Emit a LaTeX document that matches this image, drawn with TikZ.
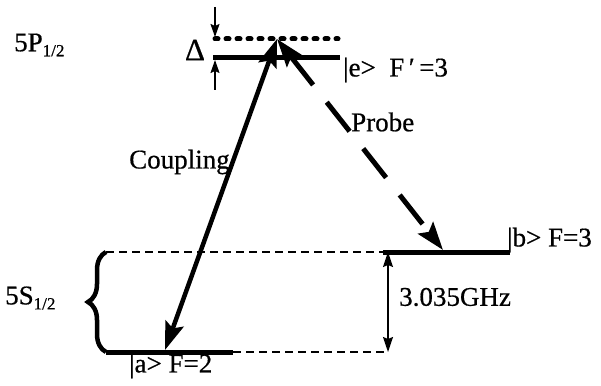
\documentclass[tikz,border=0pt]{standalone}
\usepackage{fontspec}
\setmainfont{Liberation Serif}[FakeBold=0.6]
\usetikzlibrary{arrows.meta,decorations.pathreplacing}
\begin{document}
\begin{tikzpicture}[x=1pt,y=-1pt,
  lbl/.style={inner sep=0pt,font=\fontsize{27}{30}\selectfont},
  level/.style={line width=5pt},
  thindash/.style={line width=1.2pt,dash pattern=on 8pt off 5pt},
  bighead/.style={{Stealth[length=28pt,width=19pt,inset=5pt]}-{Stealth[length=28pt,width=19pt,inset=5pt]}},
  smallhead/.style={-{Stealth[length=13pt,width=9pt,inset=2pt]}},
  medhead/.style={{Stealth[length=15pt,width=10pt,inset=2pt]}-{Stealth[length=15pt,width=10pt,inset=2pt]}}]
\useasboundingbox (0,0) rectangle (601,385);
% coordinates
\coordinate (top) at (277,39);
\coordinate (aend) at (165,350);
\coordinate (bend) at (443,250);
\coordinate (dotL) at (215,39);
\coordinate (dotR) at (338,39);
\coordinate (eL) at (213,58);
\coordinate (eR) at (340,58);
\coordinate (aL) at (106,352);
\coordinate (aR) at (233,352);
\coordinate (bL) at (383,252);
\coordinate (bR) at (510,252);
\coordinate (upL) at (106,252);
\coordinate (fTop) at (388,252);
\coordinate (fBot) at (388,352);
\coordinate (dTop) at (215,7);
\coordinate (dTopEnd) at (215,37);
\coordinate (dBot) at (215,90);
\coordinate (dBotEnd) at (215,60);
% levels
\draw[line width=5pt,line cap=round,dash pattern=on 3pt off 8pt] (dotL) -- (dotR);
\draw[level] (eL) -- (eR);
\draw[level] (aL) -- (aR);
\draw[level] (bL) -- (bR);
\draw[thindash] (aR) -- (fBot);
\draw[thindash] (upL) -- (bL);
% brace
\draw[line width=4.5pt,decorate,decoration={brace,amplitude=18pt,aspect=0.5}] (aL) -- (upL);
% delta arrows
\draw[line width=1.5pt,smallhead] (dTop) -- (dTopEnd);
\draw[line width=1.5pt,smallhead] (dBot) -- (dBotEnd);
% frequency arrow
\draw[line width=1.5pt,medhead] (fTop) -- (fBot);
% coupling and probe
\draw[line width=4.5pt,bighead] (top) -- (aend);
\draw[line width=5pt,bighead,dash pattern=on 37pt off 22pt] (top) -- (bend);
% labels
\node[lbl,anchor=west] (p12) at (14,45) {5P\raisebox{-5pt}{\fontsize{17}{17}\selectfont 1/2}};
\node[lbl,anchor=west] (s12) at (5,298) {5S\raisebox{-5pt}{\fontsize{17}{17}\selectfont 1/2}};
\node[lbl,font=\fontsize{31}{31}\selectfont] (delta) at (195,50) {Δ};
\node[lbl,anchor=west] (elab) at (343,70) {|e>\ \ F\,′\,=3};
\node[lbl,anchor=west] (blab) at (507,240) {|b>\ F=3};
\node[lbl,anchor=west] (alab) at (129,366) {|a>\ F=2};
\node[lbl,anchor=west] (coup) at (129,162) {Coupling};
\node[lbl,anchor=west] (probe) at (351,122) {Probe};
\node[lbl,anchor=west] (ghz) at (399,297) {3.035GHz};
\end{tikzpicture}
\end{document}
